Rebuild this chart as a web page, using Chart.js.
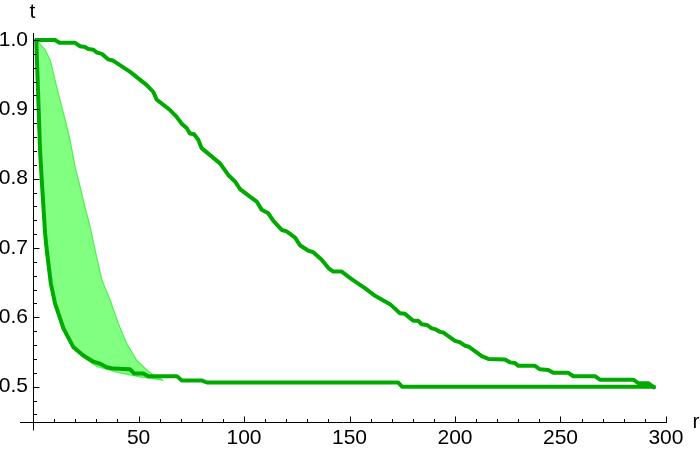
<!DOCTYPE html>
<html>
<head>
<meta charset="utf-8">
<script src="https://cdn.jsdelivr.net/npm/chart.js@4.4.1/dist/chart.umd.min.js"></script>
<style>
  html, body { margin: 0; padding: 0; background: #fff; }
</style>
</head>
<body>
<canvas id="graph" width="700" height="451"></canvas>
<script>
// upper thick curve (r, t)
const upperR = [1.5, 10.4, 12.5, 19.9, 22.3, 24.6, 26.2, 28.6, 30.2, 32.6, 35.7, 38.1, 46.0, 53.9, 57.0, 58.6,
  64.9, 68.1, 70.5, 72.8, 74.4, 76.3, 78.3, 79.9, 83.9, 88.6, 92.6, 95.7, 98.1, 102.8, 106.0, 108.4, 111.5,
  113.9, 117.9, 120.2, 124.2, 126.5, 130.5, 132.8, 136.8, 140.0, 142.3, 146.3, 151.0, 157.3, 162.1, 169.2,
  173.9, 176.3, 180.2, 182.6, 184.2, 186.6, 189.0, 190.5, 192.9, 194.5, 200.0, 202.4, 204.7, 206.3, 212.7,
  215.8, 223.7, 226.1, 228.4, 230.0, 237.9, 240.3, 244.2, 246.6, 253.7, 256.1, 266.4, 268.7, 284.5, 286.9,
  291.6, 294.3];
const upperT = [1.0, 1.0, 0.996, 0.996, 0.991, 0.990, 0.987, 0.986, 0.982, 0.980, 0.972, 0.970, 0.954, 0.935,
  0.925, 0.914, 0.899, 0.889, 0.879, 0.873, 0.865, 0.864, 0.856, 0.844, 0.834, 0.822, 0.805, 0.796, 0.785,
  0.774, 0.767, 0.755, 0.750, 0.739, 0.726, 0.724, 0.715, 0.704, 0.696, 0.694, 0.683, 0.671, 0.666, 0.666,
  0.655, 0.642, 0.631, 0.619, 0.606, 0.605, 0.595, 0.595, 0.590, 0.589, 0.584, 0.583, 0.579, 0.578, 0.566,
  0.564, 0.559, 0.558, 0.544, 0.540, 0.539, 0.535, 0.534, 0.530, 0.530, 0.525, 0.524, 0.520, 0.520, 0.515,
  0.515, 0.510, 0.510, 0.505, 0.505, 0.499];

// lower thick curve
const lowerR = [1.5, 2.5, 3.3, 4.1, 5.7, 6.5, 8.4, 10.4, 14.4, 19.1, 23.8, 28.6, 31.8, 34.9, 38.1, 46.0, 47.9,
  52.3, 54.6, 68.2, 70.5, 79.9, 82.3, 173.0, 174.9, 294.3];
const lowerT = [1.0, 0.913, 0.841, 0.798, 0.721, 0.697, 0.649, 0.620, 0.584, 0.557, 0.545, 0.536, 0.533, 0.528,
  0.526, 0.525, 0.519, 0.519, 0.515, 0.515, 0.509, 0.509, 0.506, 0.506, 0.500, 0.500];

// shaded band: right edge and left edge
const bandHiR = [1.75, 3.3, 5.7, 8.1, 10.4, 12.8, 15.2, 17.5, 19.9, 22.3, 24.6, 27.0, 29.4, 32.6, 36.5, 40.4,
  44.4, 49.1, 53.9, 57.0, 60.2, 61.6];
const bandHiT = [1.0, 0.994, 0.986, 0.971, 0.942, 0.913, 0.885, 0.856, 0.817, 0.788, 0.759, 0.731, 0.697, 0.654,
  0.625, 0.591, 0.562, 0.538, 0.524, 0.517, 0.512, 0.509];
const bandLoR = [1.75, 2.4, 3.8, 5.9, 8.1, 10.0, 13.7, 18.5, 23.2, 30.2, 39.7, 50.7, 60.2, 61.6];
const bandLoT = [1.0, 0.913, 0.798, 0.697, 0.649, 0.620, 0.584, 0.557, 0.544, 0.529, 0.521, 0.514, 0.510, 0.509];

const xTicks = [50, 100, 150, 200, 250, 300];
const yTicks = [0.5, 0.6, 0.7, 0.8, 0.9, 1.0];

const xMin = -6.2, xMax = 300.5;
const yMin = 0.449, yMax = 1.0101;

const pts = (xs, ys) => xs.map((x, i) => ({x: x, y: ys[i]}));
const bandPts = pts(bandHiR, bandHiT).concat(pts(bandLoR, bandLoT).reverse());

const fontSpec = {family: "'Liberation Sans', Arial, sans-serif", size: 21};

// Mathematica style axes: lines crossing at (0, yMin), ticks pointing into the plot, t / r labels
const innerTicks = {
  id: 'innerTicks',
  afterDraw(chart) {
    const ctx = chart.ctx;
    const xs = chart.scales.x, ys = chart.scales.y;
    const area = chart.chartArea;
    const x0 = Math.round(xs.getPixelForValue(0)) + 0.5;
    const yb = Math.round(ys.getPixelForValue(yMin)) + 0.5;
    ctx.save();
    ctx.strokeStyle = '#000';
    ctx.lineWidth = 1;
    ctx.beginPath();
    ctx.moveTo(x0, area.top);
    ctx.lineTo(x0, yb + 8);
    ctx.moveTo(area.left, yb);
    ctx.lineTo(area.right, yb);
    for (let v = 10; v <= 300; v += 10) {
      const px = Math.round(xs.getPixelForValue(v)) + 0.5;
      const len = v % 50 === 0 ? 6 : 3.5;
      ctx.moveTo(px, yb);
      ctx.lineTo(px, yb - len);
    }
    for (let k = 23; k <= 50; k++) {
      const py = Math.round(ys.getPixelForValue(k / 50)) + 0.5;
      const len = k % 5 === 0 ? 6 : 3.5;
      ctx.moveTo(x0, py);
      ctx.lineTo(x0 + len, py);
    }
    ctx.stroke();

    ctx.fillStyle = '#000';
    ctx.font = "21px 'Liberation Sans', Arial, sans-serif";
    ctx.textAlign = 'center';
    ctx.textBaseline = 'middle';
    ctx.fillText('t', x0 - 1, 12);
    ctx.fillText('r', 696, yb);
    ctx.restore();
  }
};

new Chart(document.getElementById('graph').getContext('2d'), {
  type: 'line',
  data: {
    datasets: [{
      data: pts(upperR, upperT),
      borderColor: 'rgb(0, 170, 0)',
      borderWidth: 4,
      order: 1
    }, {
      data: pts(lowerR, lowerT),
      borderColor: 'rgb(0, 170, 0)',
      borderWidth: 4,
      order: 1
    }, {
      data: bandPts,
      borderColor: 'rgb(80, 240, 80)',
      backgroundColor: 'rgb(128, 255, 128)',
      borderWidth: 1.2,
      fill: 'shape',
      order: 2
    }]
  },
  options: {
    responsive: false,
    animation: false,
    layout: {padding: {left: 20, right: 33, top: 33, bottom: 29}},
    elements: {
      point: {radius: 0},
      line: {tension: 0, borderJoinStyle: 'round', borderCapStyle: 'round'}
    },
    plugins: {legend: {display: false}, tooltip: {enabled: false}},
    scales: {
      x: {
        type: 'linear',
        position: {y: 0.456},
        min: xMin,
        max: xMax,
        afterBuildTicks: s => { s.ticks = xTicks.map(v => ({value: v})); },
        ticks: {color: '#000', font: fontSpec, padding: 0, maxRotation: 0},
        grid: {display: false},
        border: {display: false}
      },
      y: {
        type: 'linear',
        position: {x: -2.4},
        min: yMin,
        max: yMax,
        afterBuildTicks: s => { s.ticks = yTicks.map(v => ({value: v})); },
        ticks: {color: '#000', font: fontSpec, callback: v => v.toFixed(1)},
        grid: {display: false},
        border: {display: false}
      }
    }
  },
  plugins: [innerTicks]
});
</script>
</body>
</html>
